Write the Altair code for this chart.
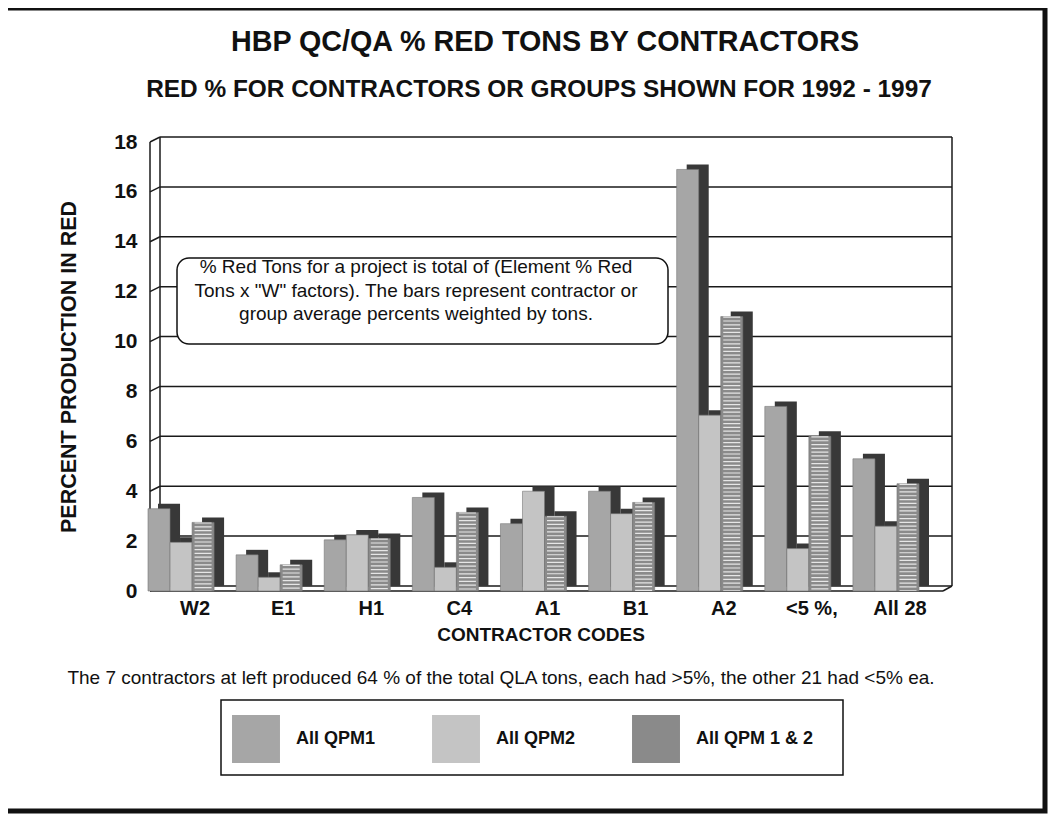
import altair as alt
import pandas as pd

# ---------------- data ----------------
cats = ["W2", "E1", "H1", "C4", "A1", "B1", "A2", "<5 %,", "All 28"]
series = ["All QPM1", "All QPM2", "All QPM 1 & 2"]
qpm1 = [3.3, 1.45, 2.05, 3.75, 2.7, 4.0, 16.9, 7.4, 5.3]
qpm2 = [1.95, 0.55, 2.25, 0.95, 4.0, 3.1, 7.05, 1.7, 2.6]
qpm12 = [2.75, 1.05, 2.1, 3.15, 3.0, 3.55, 11.0, 6.2, 4.3]
yticks = [0, 2, 4, 6, 8, 10, 12, 14, 16, 18]

title = "HBP QC/QA % RED TONS BY CONTRACTORS"
subtitle = "RED % FOR CONTRACTORS OR GROUPS SHOWN FOR 1992 - 1997"
ytitle = "PERCENT PRODUCTION IN RED"
xtitle = "CONTRACTOR CODES"
footnote = ("The 7 contractors at left produced 64 % of the total QLA tons, "
            "each had >5%, the other 21 had <5% ea.")
note_lines = ['% Red Tons for a project is total of (Element % Red',
              'Tons  x "W" factors). The bars represent contractor or',
              'group average percents weighted by tons.']

rows = []
for i, c in enumerate(cats):
    for s, vals in zip(series, [qpm1, qpm2, qpm12]):
        rows.append({"cat": c, "series": s, "value": vals[i]})
df = pd.DataFrame(rows)
grid_df = pd.DataFrame({"v": yticks})
wall_df = pd.DataFrame({"v": [0], "hi": [18]})
one = pd.DataFrame({"a": [0]})

FONT = "Liberation Sans"
W, H = 802, 449
XRANGE = [-2, 769]
PAD_IN = 0.25
STEP = (XRANGE[1] - XRANGE[0]) / (len(cats) - PAD_IN)
BW = STEP * (1 - PAD_IN)
DEPTH_X, DEPTH_Y = 10, -5
LINE = "#1a1a1a"

xs = alt.Scale(domain=cats, range=XRANGE, paddingInner=PAD_IN, paddingOuter=0)
ys = alt.Scale(domain=[0, 18], nice=False, zero=True)
colors = ["#a6a6a6", "#c4c4c4", "#8a8a8a"]

AX_X = alt.Axis(title=None, domain=False, ticks=False, tickSize=0, grid=False,
                labelAngle=0, labelFont=FONT, labelFontSize=20,
                labelFontWeight="bold", labelColor="#111",
                labelPadding=7, labelOffset=14)
AX_Y = alt.Axis(title=None, values=yticks, domain=False, ticks=False,
                tickSize=0, grid=False, labelFont=FONT, labelFontSize=21,
                labelFontWeight="bold", labelColor="#111", labelPadding=13)

def X():
    return alt.X("cat:N", scale=xs, sort=cats, axis=AX_X)

def Y(field):
    return alt.Y(field, scale=ys, axis=AX_Y)

# ---------------- decorations ----------------
frame = alt.Chart(one).mark_rect(fill=None, stroke="#111", strokeWidth=5).encode(
    x=alt.value(-145), x2=alt.value(895), y=alt.value(-134), y2=alt.value(669))

grid = alt.Chart(grid_df).mark_rule(color=LINE, strokeWidth=1.5, yOffset=DEPTH_Y).encode(
    y=Y("v:Q"), x=alt.value(DEPTH_X), x2=alt.value(W))
grid_diag = alt.Chart(grid_df).mark_rule(color=LINE, strokeWidth=1.5, y2Offset=DEPTH_Y).encode(
    y=Y("v:Q"), y2="v:Q", x=alt.value(0), x2=alt.value(DEPTH_X))

wall_front = alt.Chart(wall_df).mark_rule(color=LINE, strokeWidth=1.5).encode(
    x=alt.value(0), y=Y("v:Q"), y2="hi:Q")
wall_back = alt.Chart(wall_df).mark_rule(color=LINE, strokeWidth=1.5,
                                          yOffset=DEPTH_Y, y2Offset=DEPTH_Y).encode(
    x=alt.value(DEPTH_X), y=Y("v:Q"), y2="hi:Q")
wall_right = alt.Chart(wall_df).mark_rule(color=LINE, strokeWidth=1.5,
                                           yOffset=DEPTH_Y, y2Offset=DEPTH_Y).encode(
    x=alt.value(W), y=Y("v:Q"), y2="hi:Q")
floor_front = alt.Chart(wall_df).mark_rule(color=LINE, strokeWidth=1.5).encode(
    y=Y("v:Q"), x=alt.value(0), x2=alt.value(W - DEPTH_X + 1))
floor_diag = alt.Chart(wall_df).mark_rule(color=LINE, strokeWidth=1.5, y2Offset=DEPTH_Y).encode(
    y=Y("v:Q"), y2="v:Q", x=alt.value(W - DEPTH_X + 1), x2=alt.value(W))

note_box = alt.Chart(one).mark_rect(fill="white", stroke="#111", strokeWidth=1.5,
                                    cornerRadius=12).encode(
    x=alt.value(27), x2=alt.value(518), y=alt.value(116), y2=alt.value(202))
note_text = alt.Chart(one).mark_text(
    text=note_lines, font=FONT, fontSize=19, lineHeight=23.5, color="#111",
    align="center", baseline="middle").encode(x=alt.value(266), y=alt.value(125))

# ---------------- bars ----------------
dark = alt.Chart(df).mark_bar(color="#383838", yOffset=DEPTH_Y).encode(
    x=X(),
    xOffset=alt.XOffset("series:N", sort=series,
                        scale=alt.Scale(domain=series, range=[DEPTH_X, BW + DEPTH_X])),
    y=Y("value:Q"),
)

front = alt.Chart(df).mark_bar(stroke="#777", strokeWidth=0.6).encode(
    x=X(),
    xOffset=alt.XOffset("series:N", sort=series,
                        scale=alt.Scale(domain=series, range=[0, BW])),
    y=Y("value:Q"),
    color=alt.Color("series:N", sort=series,
                    scale=alt.Scale(domain=series, range=colors),
                    legend=alt.Legend(title=None, orient="none", direction="horizontal",
                                      legendX=82, legendY=573, symbolType="square",
                                      symbolSize=2300, symbolOpacity=1,
                                      symbolStrokeWidth=0, labelFont=FONT,
                                      labelFontSize=18, labelFontWeight="bold",
                                      labelColor="#111", labelOffset=16,
                                      columnPadding=56, padding=0)),
)

stripes = alt.Chart(df).transform_filter(
    alt.datum.series == series[2]
).mark_rule(color="#f0f0f0", strokeWidth=BW / 3 - 5, strokeDash=[1.2, 2.6],
            opacity=0.9).encode(
    x=X(),
    xOffset=alt.XOffset("series:N", sort=series,
                        scale=alt.Scale(domain=series, range=[0, BW])),
    y=Y("value:Q"),
    y2=alt.datum(0),
)

# ---------------- texts ----------------
def txt(s, x, y, size, weight="bold", angle=0):
    return alt.Chart(one).mark_text(text=s, font=FONT, fontSize=size, fontWeight=weight,
                                    color="#111", align="center", baseline="middle",
                                    angle=angle).encode(x=alt.value(x), y=alt.value(y))

t_title = txt(title, 395, -100, 28.7)
t_sub = txt(subtitle, 389, -52, 24.4)
t_y = txt(ytitle, -80, 225, 21.5, angle=270)
t_x = txt(xtitle, 391, 493, 19)
t_foot = txt(footnote, 351, 536, 19, weight="normal")

legend_box = alt.Chart(one).mark_rect(fill=None, stroke="#111", strokeWidth=1.5).encode(
    x=alt.value(71), x2=alt.value(693), y=alt.value(558), y2=alt.value(633))

chart = alt.layer(
    frame, grid, grid_diag, wall_front, wall_back, wall_right, floor_front, floor_diag,
    note_box, note_text, dark, front, stripes,
    t_title, t_sub, t_y, t_x, t_foot, legend_box,
).resolve_scale(xOffset="independent").properties(
    width=W, height=H,
    autosize=alt.AutoSizeParams(type="none"),
    padding={"left": 142, "top": 134, "right": 1040 - 142 - W, "bottom": 806 - 134 - H},
    background="white",
).configure_view(stroke=None)

chart.save("out.html", embed_options={"renderer": "svg", "actions": False})
